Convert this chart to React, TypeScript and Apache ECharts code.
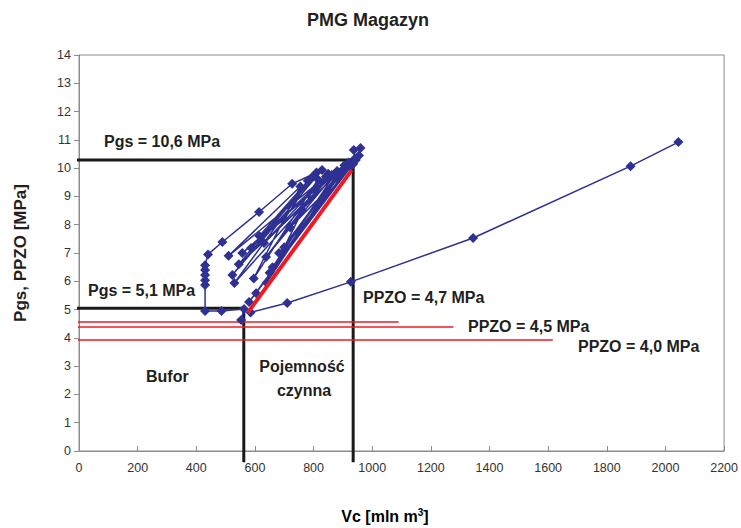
import React, { useEffect, useRef } from "react";
import * as echarts from "echarts";

// ---- data ----
const xTicks = [0, 200, 400, 600, 800, 1000, 1200, 1400, 1600, 1800, 2000, 2200];
const yTicks = [0, 1, 2, 3, 4, 5, 6, 7, 8, 9, 10, 11, 12, 13, 14];

// operating history (Vc [mln m3], Pgs [MPa])
const cycleVc = [553, 563, 486, 430, 430, 430, 430, 430, 430, 440, 489, 614, 727, 829, 523, 795, 530, 862, 557, 700, 810, 587, 850, 631, 880, 638, 760, 905, 682, 920, 604, 937, 580, 944, 937, 960, 955, 650, 900, 545, 780, 615, 870, 660, 925, 700, 935, 720, 842, 510, 755, 596, 815, 640, 890];
const cycleP = [4.63, 5.02, 4.95, 4.95, 5.87, 6.04, 6.22, 6.40, 6.57, 6.95, 7.39, 8.45, 9.45, 9.93, 6.22, 9.69, 5.94, 9.76, 7.0, 8.2, 9.85, 7.18, 9.8, 7.35, 9.9, 6.86, 8.52, 10.1, 7.0, 10.2, 5.58, 10.3, 5.27, 10.29, 10.64, 10.71, 10.45, 6.3, 9.95, 6.6, 9.55, 7.6, 9.75, 6.5, 10.05, 7.2, 10.15, 7.9, 9.7, 6.9, 9.35, 6.1, 9.6, 5.95, 9.85];

// extended curve
const branchVc = [585, 710, 927, 1344, 1881, 2044];
const branchP = [4.9, 5.23, 5.98, 7.53, 10.07, 10.92];

// working-capacity line (red)
const activeVc = [575, 930];
const activeP = [4.88, 9.93];

// PPZO levels (red thin lines)
const ppzoLevels = [4.56, 4.38, 3.92];
const ppzoEnds = [1090, 1277, 1616];

// Pgs limits (black)
const pgsMax = 10.29;
const pgsMin = 5.05;
const vcMax = 935;
const vcMin = 562;
const lineStart = -14;
const lineBelow = -0.4;

const zip = (a: number[], b: number[]) => a.map((v, i) => [v, b[i]]);

export default function App() {
  const ref = useRef<HTMLDivElement>(null);
  useEffect(() => {
    if (!ref.current) return;
    const chart = echarts.init(ref.current, undefined, { renderer: "svg" });
    const navy = "#2E3192";
    const red = "#ED1C24";
    const txt = "#231F20";
    const font = "Liberation Sans, Arial, sans-serif";
    const bold = { fontFamily: font, fontWeight: "bold" as const, fontSize: 16, fill: txt };

    const series: any[] = [
      {
        type: "line",
        data: [[lineStart, pgsMax], [vcMax, pgsMax], [vcMax, lineBelow]],
        clip: false,
        symbol: "none",
        lineStyle: { color: "#1a1a1a", width: 3 },
        z: 2,
      },
      {
        type: "line",
        data: [[lineStart, pgsMin], [vcMin, pgsMin], [vcMin, lineBelow]],
        clip: false,
        symbol: "none",
        lineStyle: { color: "#1a1a1a", width: 3 },
        z: 2,
      },
      ...ppzoLevels.map((lv, i) => ({
        type: "line",
        data: [[lineStart, lv], [ppzoEnds[i], lv]],
        clip: false,
        symbol: "none",
        lineStyle: { color: red, width: 1.5 },
        z: 3,
      })),
      {
        type: "line",
        data: zip(cycleVc, cycleP),
        symbol: "diamond",
        symbolSize: 10,
        itemStyle: { color: navy },
        lineStyle: { color: navy, width: 1.5 },
        z: 4,
      },
      {
        type: "line",
        data: zip(branchVc, branchP),
        symbol: "diamond",
        symbolSize: 10,
        itemStyle: { color: navy },
        lineStyle: { color: navy, width: 1.5 },
        z: 4,
      },
      {
        type: "line",
        data: zip(activeVc, activeP),
        symbol: "none",
        lineStyle: { color: red, width: 4 },
        z: 5,
      },
    ];

    const texts: any[] = [
      { type: "text", x: 368, y: 20, style: { ...bold, text: "PMG Magazyn", fontSize: 18, align: "center", verticalAlign: "middle" } },
      { type: "text", x: 104, y: 141, style: { ...bold, text: "Pgs = 10,6 MPa", verticalAlign: "middle" } },
      { type: "text", x: 88, y: 290, style: { ...bold, text: "Pgs = 5,1 MPa", verticalAlign: "middle" } },
      { type: "text", x: 363, y: 297, style: { ...bold, text: "PPZO = 4,7 MPa", verticalAlign: "middle" } },
      { type: "text", x: 468, y: 326, style: { ...bold, text: "PPZO = 4,5 MPa", verticalAlign: "middle" } },
      { type: "text", x: 578, y: 346, style: { ...bold, text: "PPZO = 4,0 MPa", verticalAlign: "middle" } },
      { type: "text", x: 146, y: 376, style: { ...bold, text: "Bufor", verticalAlign: "middle" } },
      { type: "text", x: 302, y: 366, style: { ...bold, text: "Pojemność", align: "center", verticalAlign: "middle" } },
      { type: "text", x: 304, y: 390, style: { ...bold, text: "czynna", align: "center", verticalAlign: "middle" } },
      {
        type: "text",
        x: 20,
        y: 253,
        rotation: Math.PI / 2,
        style: { ...bold, fontSize: 17, text: "Pgs, PPZO [MPa]", align: "center", verticalAlign: "middle" },
      },
      {
        type: "text",
        x: 385,
        y: 516,
        style: {
          text: "{b|Vc [mln m}{s|3}{b|]}",
          align: "center",
          verticalAlign: "middle",
          rich: {
            b: { fontFamily: font, fontWeight: "bold", fontSize: 16, color: txt },
            s: { fontFamily: font, fontWeight: "bold", fontSize: 10, color: txt, verticalAlign: "top", padding: [0, 0, 8, 0] },
          },
        },
      },
    ];

    chart.setOption({
      animation: false,
      backgroundColor: "#ffffff",
      grid: { left: 79, top: 55, right: 14, bottom: 77, show: true, borderColor: "#8c8c8c", borderWidth: 1 },
      xAxis: {
        type: "value",
        min: xTicks[0],
        max: xTicks[xTicks.length - 1],
        interval: 200,
        axisLine: { lineStyle: { color: "#8c8c8c" } },
        axisTick: { inside: true, length: 5, lineStyle: { color: "#8c8c8c" } },
        axisLabel: { color: "#333", fontFamily: font, fontSize: 12.5, margin: 10, formatter: (v: number) => String(v) },
        splitLine: { show: false },
      },
      yAxis: {
        type: "value",
        min: yTicks[0],
        max: yTicks[yTicks.length - 1],
        interval: 1,
        axisLine: { show: true, lineStyle: { color: "#8c8c8c" } },
        axisTick: { show: true, length: 5, lineStyle: { color: "#8c8c8c" } },
        axisLabel: { color: "#333", fontFamily: font, fontSize: 12.5, margin: 8, formatter: (v: number) => String(v) },
        splitLine: { show: false },
      },
      series,
      graphic: texts,
    });
    return () => chart.dispose();
  }, []);
  return <div ref={ref} style={{ position: "absolute", left: 0, top: 0, width: 741, height: 528 }} />;
}
